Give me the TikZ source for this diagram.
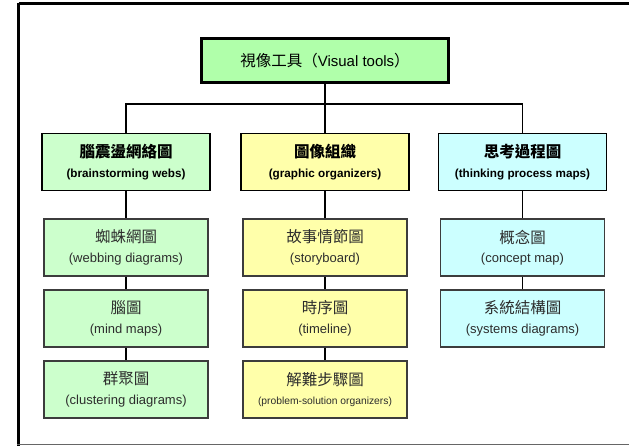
\documentclass[tikz,border=0pt]{standalone}
\usepackage{fontspec}
\setmainfont{Liberation Sans}
\newfontfamily\cjk{Noto Sans CJK TC}
\definecolor{topgreen}{RGB}{176,255,170}
\definecolor{lgreen}{RGB}{204,255,204}
\definecolor{lyellow}{RGB}{255,255,170}
\definecolor{lcyan}{RGB}{204,255,255}
\definecolor{subborder}{RGB}{60,60,60}
\definecolor{subtext}{RGB}{45,45,45}
\newcommand\cj[1]{{\cjk\fontsize{15.5}{15.5}\selectfont #1}}
\newcommand\cjb[1]{{\cjk\bfseries\fontsize{15.5}{15.5}\selectfont #1}}
\newcommand\en[2]{{\fontsize{#1}{#1}\selectfont #2}}
\tikzset{
  topbox/.style={draw=black, line width=3pt, fill=topgreen, minimum width=247pt, minimum height=44pt, inner sep=0pt, font=\fontsize{15}{18}\selectfont},
  catbox/.style={draw=black, line width=1.6pt, minimum width=168pt, minimum height=57pt, inner sep=0pt, align=center, font=\fontsize{11.7}{19.5}\selectfont\bfseries},
  subbox/.style={draw=subborder, line width=1.1pt, minimum width=164pt, minimum height=57pt, inner sep=0pt, align=center, text=subtext, font=\fontsize{13}{19.5}\selectfont},
  link/.style={draw=black, line width=1.5pt},
  frameline/.style={line width=3.2pt, black},
}
\begin{document}
\begin{tikzpicture}[x=1pt, y=-1pt]
\useasboundingbox (0,0) rectangle (629,446);
% frame
\draw[frameline] (18.5,3.4) -- (629,3.4);
\draw[frameline] (18.5,3.4) -- (18.5,446);
\draw[line width=1.5pt, black!60] (17,444.5) -- (629,444.5);

% nodes
\node[topbox] (top) at (325,61) {\cj{視像工具（}Visual tools\cj{）}};

\node[catbox, fill=lgreen]  (c1) at (126,162) {\cjb{腦震盪網絡圖}\\(brainstorming webs)};
\node[catbox, fill=lyellow] (c2) at (325,162) {\cjb{圖像組織}\\(graphic organizers)};
\node[catbox, fill=lcyan]   (c3) at (522.5,162) {\cjb{思考過程圖}\\(thinking process maps)};

\node[subbox, fill=lgreen] (a1) at (126,247.5) {\cj{蜘蛛網圖}\\(webbing diagrams)};
\node[subbox, fill=lgreen] (a2) at (126,318.5) {\cj{腦圖}\\(mind maps)};
\node[subbox, fill=lgreen] (a3) at (126,389.5) {\cj{群聚圖}\\(clustering diagrams)};

\node[subbox, fill=lyellow] (b1) at (325,247.5) {\cj{故事情節圖}\\(storyboard)};
\node[subbox, fill=lyellow] (b2) at (325,318.5) {\cj{時序圖}\\(timeline)};
\node[subbox, fill=lyellow] (b3) at (325,389.5) {\cj{解難步驟圖}\\\en{10.3}{(problem-solution organizers)}};

\node[subbox, fill=lcyan] (d1) at (522.5,247.5) {\cj{概念圖}\\(concept map)};
\node[subbox, fill=lcyan] (d2) at (522.5,318.5) {\cj{系統結構圖}\\(systems diagrams)};

% connectors
\coordinate (j) at (325,104);
\draw[link] (top.south) -- (c2.north);
\draw[link] (c1.north) -- (c1.north |- j) -- (c3.north |- j) -- (c3.north);

\draw[link] (c1.south) -- (a1.north);
\draw[link] (a1.south) -- (a2.north);
\draw[link] (a2.south) -- (a3.north);

\draw[link] (c2.south) -- (b1.north);
\draw[link] (b1.south) -- (b2.north);
\draw[link] (b2.south) -- (b3.north);

\draw[link] (c3.south) -- (d1.north);
\draw[link] (d1.south) -- (d2.north);
\end{tikzpicture}
\end{document}
